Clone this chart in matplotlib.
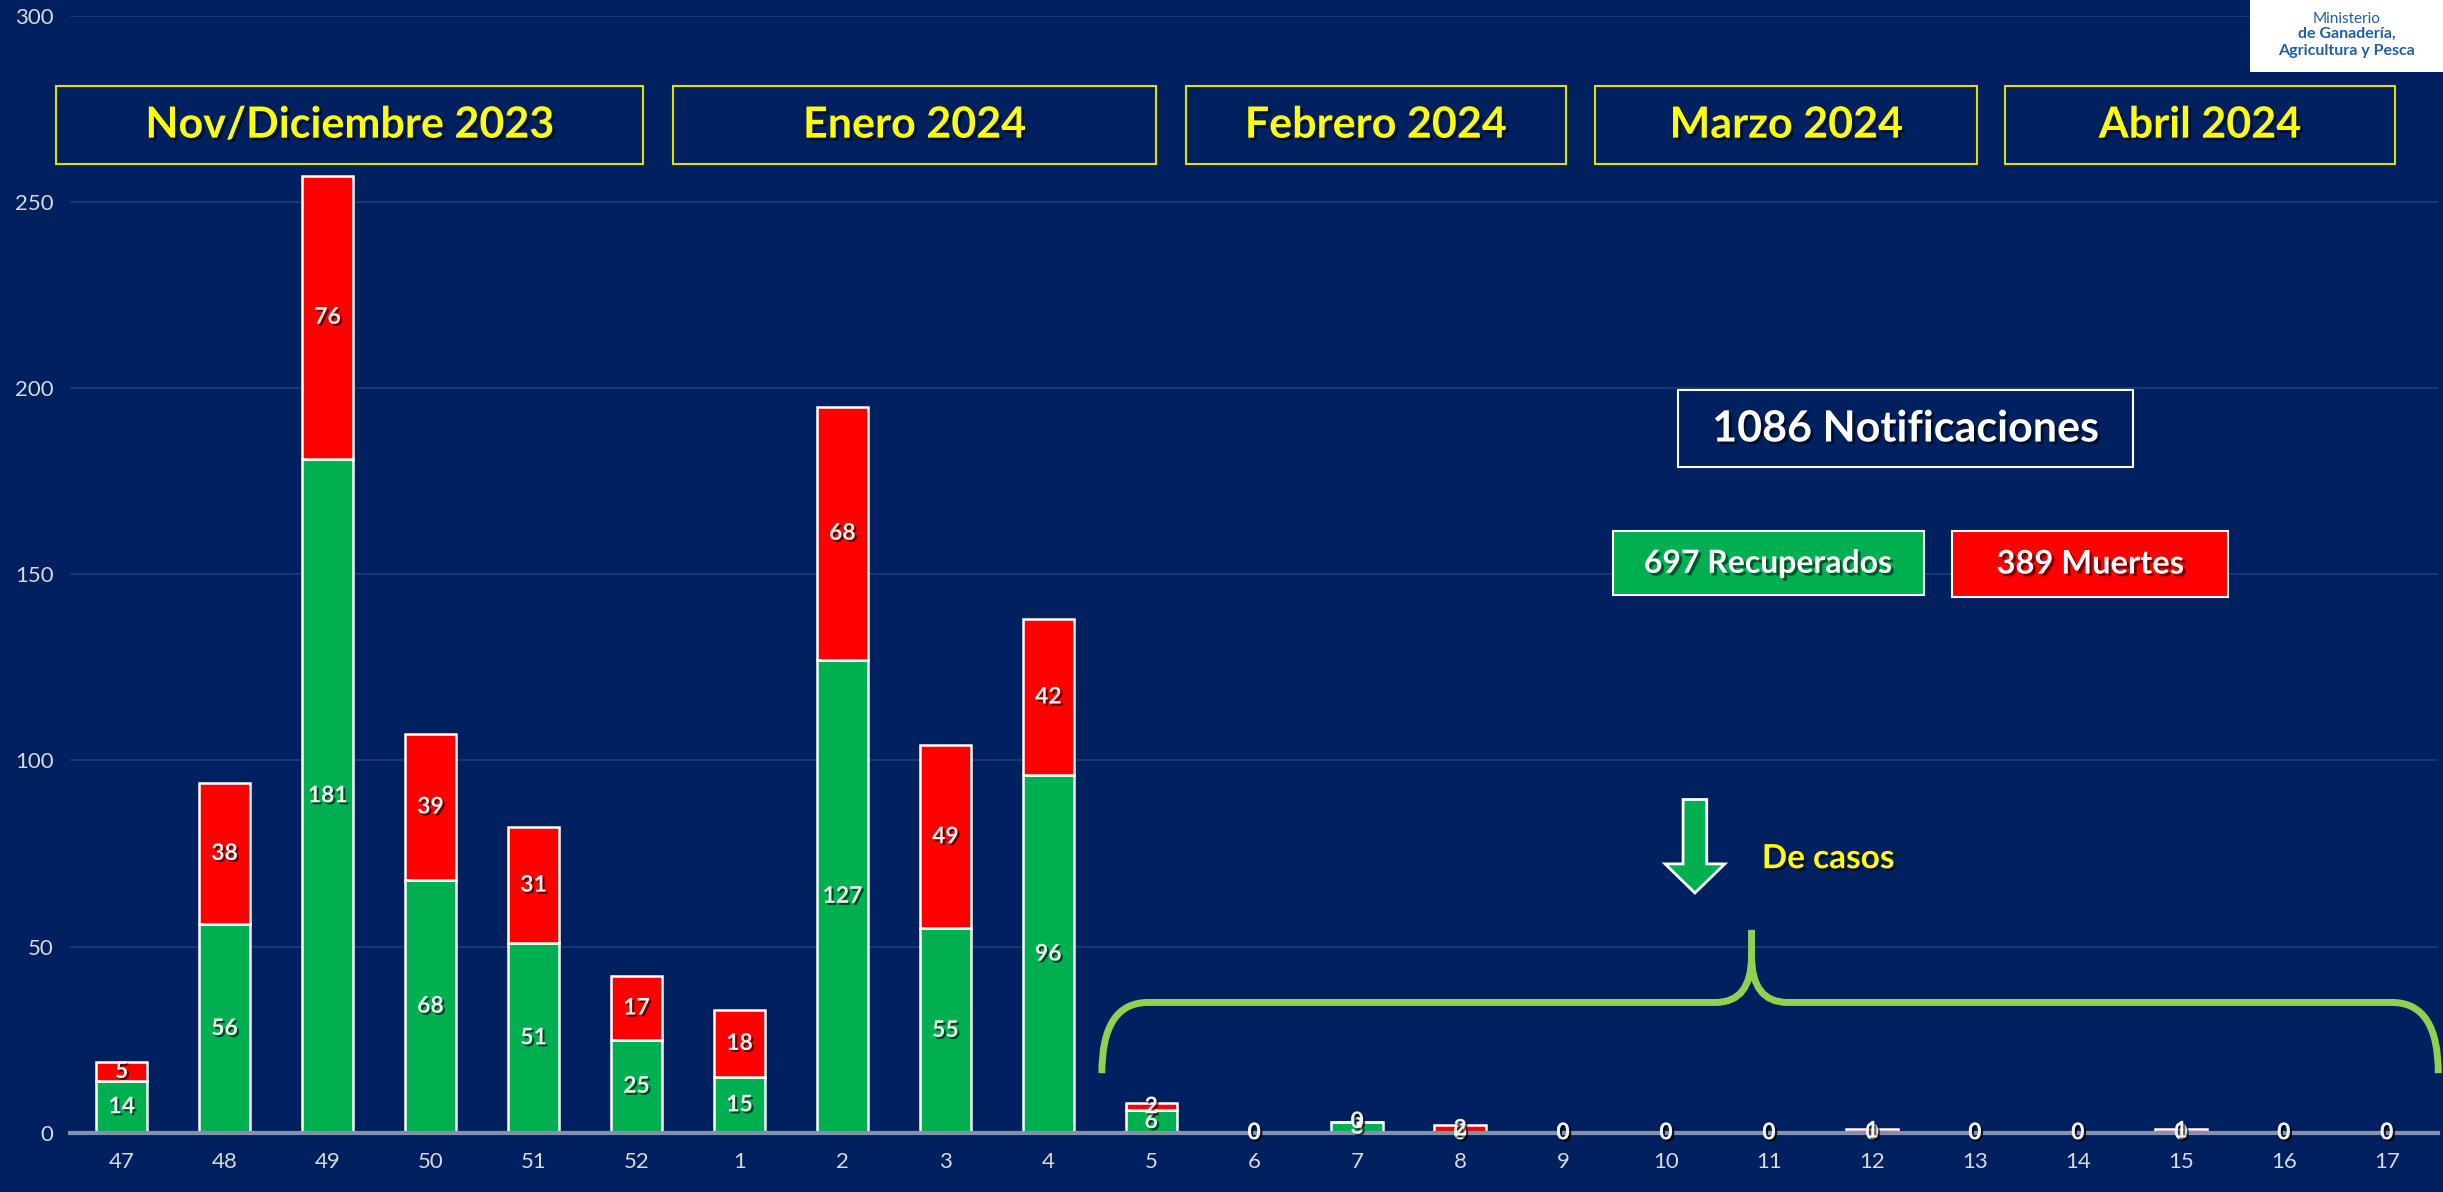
import numpy as np
import matplotlib
matplotlib.use('Agg')
import matplotlib.pyplot as plt
import matplotlib.patheffects as pe
from matplotlib.patches import Rectangle, FancyArrow, PathPatch
from matplotlib.path import Path

plt.rcParams['font.family'] = ['Lato', 'DejaVu Sans']

# # Data
weeks = ['47', '48', '49', '50', '51', '52', '1', '2', '3', '4', '5', '6',
         '7', '8', '9', '10', '11', '12', '13', '14', '15', '16', '17']
recuperados = [14, 56, 181, 68, 51, 25, 15, 127, 55, 96, 6, 0,
               3, 0, 0, 0, 0, 0, 0, 0, 0, 0, 0]
muertes = [5, 38, 76, 39, 31, 17, 18, 68, 49, 42, 2, 0,
           0, 2, 0, 0, 0, 1, 0, 0, 1, 0, 0]
months = ['Nov/Diciembre 2023', 'Enero 2024', 'Febrero 2024', 'Marzo 2024', 'Abril 2024']
yticks = [0, 50, 100, 150, 200, 250, 300]

navy = '#002060'
green = '#00b050'
red = '#ff0000'
yellow = '#ffff00'
lime = '#92d050'

fig = plt.figure(figsize=(24.43, 11.92), dpi=100, facecolor=navy)
ax = fig.add_axes([45/1568, 1-727/765, 1520/1568, 717/765])
ax.set_facecolor(navy)

x = np.arange(len(weeks))
b1 = ax.bar(x, recuperados, width=0.5, color=green, edgecolor='white', linewidth=1.8, zorder=3)
b2 = ax.bar(x, muertes, width=0.5, bottom=recuperados, color=red, edgecolor='white', linewidth=1.8, zorder=3)

shadow = [pe.withSimplePatchShadow(offset=(1.5, -1.5), shadow_rgbFace='black', alpha=0.6)]
for bars in (b1, b2):
    lbls = ax.bar_label(bars, label_type='center', color='#f2f2f2', fontsize=16.5,
                        fontweight='bold', zorder=5)
    for t in lbls:
        t.set_path_effects(shadow)

ax.set_xlim(-0.5, 22.5)
ax.set_ylim(0, 300)
ax.set_xticks(x)
ax.set_xticklabels(weeks)
ax.set_yticks(yticks)
ax.tick_params(colors='#d9d9d9', labelsize=16, length=0)
ax.tick_params(axis='x', pad=14)
ax.tick_params(axis='y', pad=12)
ax.grid(axis='y', color='#1e3c7a', linewidth=1.2, zorder=0)
for s in ['top', 'right', 'left']:
    ax.spines[s].set_visible(False)
ax.spines['bottom'].set_color('#8391ad')
ax.spines['bottom'].set_linewidth(3)
ax.spines['bottom'].set_zorder(4)

# month boxes (figure coords, from shrunk-pixel positions)
month_boxes = [(36, 413), (432, 742), (761, 1005), (1024, 1269), (1287, 1537)]
for (l, r), m in zip(month_boxes, months):
    fx0, fx1 = l/1568, r/1568
    fy0, fy1 = 1-105/765, 1-55/765
    fig.add_artist(Rectangle((fx0, fy0), fx1-fx0, fy1-fy0, transform=fig.transFigure,
                             facecolor=navy, edgecolor='#e0e000', linewidth=1.5, zorder=6))
    t = fig.text((fx0+fx1)/2, (fy0+fy1)/2, m, color=yellow, fontsize=31, fontweight='bold',
                 ha='center', va='center', zorder=7)
    t.set_path_effects([pe.withSimplePatchShadow(offset=(2, -2), shadow_rgbFace='black', alpha=0.5)])

def fig_box(l, r, top, bot, fc, ec, text, fs, tc):
    fx0, fx1 = l/1568, r/1568
    fy0, fy1 = 1-bot/765, 1-top/765
    fig.add_artist(Rectangle((fx0, fy0), fx1-fx0, fy1-fy0, transform=fig.transFigure,
                             facecolor=fc, edgecolor=ec, linewidth=1.5, zorder=6))
    t = fig.text((fx0+fx1)/2, (fy0+fy1)/2, text, color=tc, fontsize=fs, fontweight='bold',
                 ha='center', va='center', zorder=7)
    t.set_path_effects([pe.withSimplePatchShadow(offset=(2, -2), shadow_rgbFace='black', alpha=0.5)])

fig_box(1077, 1369, 250, 300, navy, 'white', '1086 Notificaciones', 31, 'white')
fig_box(1035, 1235, 341, 382, green, 'white', '697 Recuperados', 23, 'white')
fig_box(1253, 1430, 341, 383, red, 'white', '389 Muertes', 23.5, 'white')

# arrow and label
ax.add_patch(FancyArrow(15.28, 89.5, 0, -25.1, width=0.23, head_width=0.58, head_length=7.8,
                        length_includes_head=True, facecolor=green, edgecolor='white',
                        linewidth=2, zorder=6))
t = ax.text(15.93, 73.6, 'De casos', color=yellow, fontsize=24, fontweight='bold',
            ha='left', va='center', zorder=6)
t.set_path_effects([pe.withSimplePatchShadow(offset=(2, -2), shadow_rgbFace='black', alpha=0.5)])

# curly brace
x0, xc, x2 = 9.52, 15.83, 22.5
yb, ym, yt = 16, 35, 54.5
verts = [(x0, yb), (x0, ym), (x0 + 0.45, ym), (xc - 0.35, ym), (xc, ym), (xc, yt - 7), (xc, yt),
         (xc, yt - 7), (xc, ym), (xc + 0.35, ym), (x2 - 0.45, ym), (x2, ym), (x2, yb)]
codes = [Path.MOVETO, Path.CURVE3, Path.CURVE3, Path.LINETO, Path.CURVE3, Path.CURVE3, Path.LINETO,
         Path.MOVETO, Path.CURVE3, Path.CURVE3, Path.LINETO, Path.CURVE3, Path.CURVE3]
ax.add_patch(PathPatch(Path(verts, codes), facecolor='none', edgecolor=lime, linewidth=5,
                       capstyle='butt', joinstyle='round', clip_on=False, zorder=6))

# logo
lx0, lx1 = 1444/1568, 1.0
ly0, ly1 = 1-46/765, 1.0
fig.add_artist(Rectangle((lx0, ly0), lx1-lx0, ly1-ly0, transform=fig.transFigure,
                         facecolor='white', edgecolor='none', zorder=8))
cx = (1444 + 1568) / 2 / 1568
fig.text(cx, 1-12/765, 'Ministerio', color='#1f5fa8', fontsize=11, ha='center', va='center', zorder=9)
fig.text(cx, 1-22/765, 'de Ganadería,', color='#1f5fa8', fontsize=11.5, fontweight='bold',
         ha='center', va='center', zorder=9)
fig.text(cx, 1-32.5/765, 'Agricultura y Pesca', color='#1f5fa8', fontsize=11.5, fontweight='bold',
         ha='center', va='center', zorder=9)

fig.savefig('out.png', dpi=100, facecolor=navy)
